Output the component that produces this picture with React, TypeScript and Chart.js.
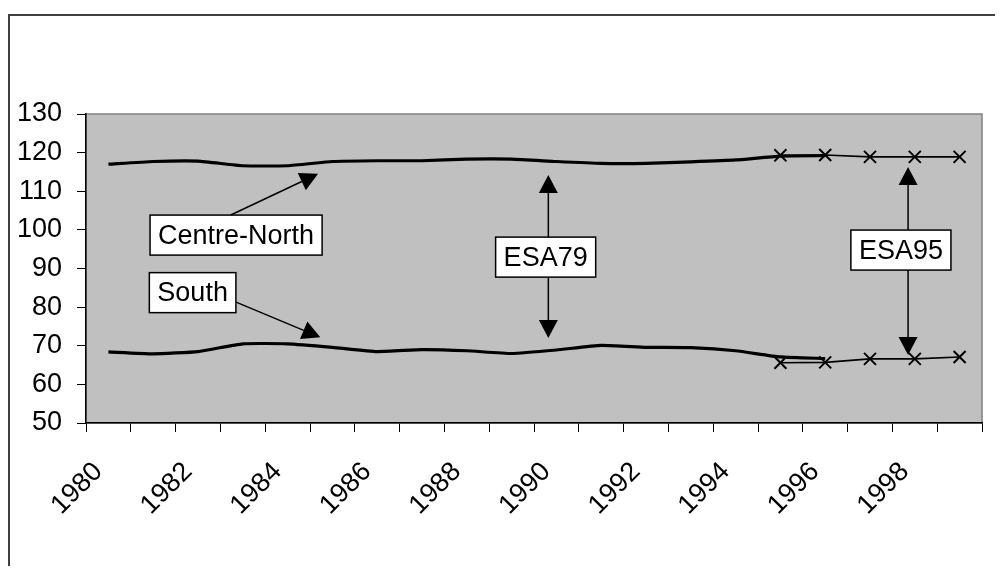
import React, { useEffect, useRef } from 'react';
import { Chart, registerables } from 'chart.js';

Chart.register(...registerables);

const years = ['1980', '1981', '1982', '1983', '1984', '1985', '1986', '1987', '1988', '1989', '1990', '1991', '1992', '1993', '1994', '1995', '1996', '1997', '1998', '1999'];

const centreNorthESA79 = [117.0, 117.7, 117.8, 116.6, 116.6, 117.7, 117.9, 117.9, 118.3, 118.3, 117.7, 117.2, 117.2, 117.6, 118.1, 119.1, 119.2, null, null, null];
const centreNorthESA95 = [null, null, null, null, null, null, null, null, null, null, null, null, null, null, null, 119.3, 119.4, 118.9, 118.9, 118.9];
const southESA79 = [68.4, 67.9, 68.5, 70.5, 70.5, 69.6, 68.5, 69.0, 68.7, 68.0, 68.9, 70.1, 69.6, 69.5, 68.7, 67.1, 66.7, null, null, null];
const southESA95 = [null, null, null, null, null, null, null, null, null, null, null, null, null, null, null, 65.6, 65.7, 66.6, 66.6, 67.1];

const yMin = 50;
const yMax = 130;
const yStep = 10;

// annotation boxes: x = category index, y = value (centre of the box)
const boxLabels = ['Centre-North', 'South', 'ESA79', 'ESA95'];
const boxX = [2.85, 1.88, 9.76, 17.69];
const boxY = [98.65, 83.75, 92.95, 94.77];

// arrows: from (x,y) to tip (x,y) in category index / value units
const arrowFromX = [2.72, 2.85, 9.82, 9.82, 17.85, 17.85];
const arrowFromY = [103.8, 81.3, 93, 93, 94.8, 94.8];
const arrowToX = [4.68, 4.73, 9.82, 9.82, 17.85, 17.85];
const arrowToY = [114.5, 72.2, 114.2, 72.0, 116.3, 67.6];

const FONT = "Arial, 'Liberation Sans', sans-serif";

const annotationPlugin = {
  id: 'annot',
  beforeDraw(chart: any) {
    const { ctx, chartArea: a } = chart;
    ctx.save();
    ctx.fillStyle = '#C0C0C0';
    ctx.fillRect(a.left, a.top, a.right - a.left, a.bottom - a.top);
    ctx.strokeStyle = '#808080';
    ctx.lineWidth = 1.5;
    ctx.strokeRect(a.left, a.top, a.right - a.left, a.bottom - a.top);
    ctx.restore();
  },
  afterDatasetsDraw(chart: any) {
    const { ctx } = chart;
    const xs = chart.scales.x;
    const ys = chart.scales.y;
    ctx.save();
    ctx.strokeStyle = '#000';
    ctx.fillStyle = '#000';
    ctx.lineWidth = 1.5;
    for (let i = 0; i < arrowFromX.length; i++) {
      const x1 = xs.getPixelForValue(arrowFromX[i]);
      const y1 = ys.getPixelForValue(arrowFromY[i]);
      const x2 = xs.getPixelForValue(arrowToX[i]);
      const y2 = ys.getPixelForValue(arrowToY[i]);
      const ang = Math.atan2(y2 - y1, x2 - x1);
      const headLen = 18;
      const headW = 9.5;
      const bx = x2 - headLen * Math.cos(ang);
      const by = y2 - headLen * Math.sin(ang);
      ctx.beginPath();
      ctx.moveTo(x1, y1);
      ctx.lineTo(bx, by);
      ctx.stroke();
      ctx.beginPath();
      ctx.moveTo(x2, y2);
      ctx.lineTo(bx + headW * Math.sin(ang), by - headW * Math.cos(ang));
      ctx.lineTo(bx - headW * Math.sin(ang), by + headW * Math.cos(ang));
      ctx.closePath();
      ctx.fill();
    }
    ctx.font = `27px ${FONT}`;
    ctx.textBaseline = 'middle';
    ctx.textAlign = 'center';
    for (let i = 0; i < boxLabels.length; i++) {
      const cx = xs.getPixelForValue(boxX[i]);
      const cy = ys.getPixelForValue(boxY[i]);
      const w = ctx.measureText(boxLabels[i]).width + 16;
      const h = 40;
      ctx.fillStyle = '#fff';
      ctx.fillRect(cx - w / 2, cy - h / 2, w, h);
      ctx.strokeStyle = '#000';
      ctx.lineWidth = 1.5;
      ctx.strokeRect(cx - w / 2, cy - h / 2, w, h);
      ctx.fillStyle = '#000';
      ctx.fillText(boxLabels[i], cx, cy + 1);
    }
    ctx.restore();
  },
};

export default function App() {
  const ref = useRef<HTMLCanvasElement>(null);
  useEffect(() => {
    if (!ref.current) return;
    Chart.defaults.font.family = FONT;
    Chart.defaults.font.size = 27;
    Chart.defaults.color = '#000';
    const thick = {
      borderColor: '#000',
      borderWidth: 3.2,
      pointRadius: 0,
      tension: 0.15,
      fill: false,
    };
    const thin = {
      borderColor: '#000',
      borderWidth: 1.6,
      pointStyle: 'crossRot',
      pointRadius: 8.5,
      pointBorderWidth: 2,
      pointBorderColor: '#000',
      tension: 0,
      fill: false,
    };
    const chart = new Chart(ref.current, {
      type: 'line',
      data: {
        labels: years,
        datasets: [
          { label: 'Centre-North ESA79', data: centreNorthESA79, ...thick },
          { label: 'South ESA79', data: southESA79, ...thick },
          { label: 'Centre-North ESA95', data: centreNorthESA95, ...thin },
          { label: 'South ESA95', data: southESA95, ...thin },
        ] as any,
      },
      options: {
        animation: false,
        responsive: true,
        maintainAspectRatio: false,
        layout: { padding: { left: 0, top: 98, right: 21, bottom: 0 } },
        plugins: { legend: { display: false }, tooltip: { enabled: false } },
        scales: {
          x: {
            type: 'category',
            offset: true,
            grid: { offset: true, drawOnChartArea: false, drawTicks: true, tickLength: 9, color: '#000', lineWidth: 1 },
            border: { display: true, color: '#000', width: 1.5 },
            ticks: {
              autoSkip: false,
              maxRotation: 45,
              minRotation: 45,
              padding: 24,
              labelOffset: -10,
              font: { size: 27, family: FONT },
              color: '#000',
              callback: (_v: any, i: number) => (i % 2 === 0 ? years[i] : ''),
            },
            afterFit: (s: any) => {
              s.height = 143;
              s.paddingRight = 0;
              s.paddingLeft = 0;
            },
          },
          y: {
            min: yMin,
            max: yMax,
            grid: { drawOnChartArea: false, drawTicks: true, tickLength: 9, color: '#000', lineWidth: 1 },
            border: { display: true, color: '#000', width: 1.5 },
            ticks: { stepSize: yStep, padding: 15, font: { size: 27, family: FONT }, color: '#000' },
            afterFit: (s: any) => { s.width = 76; },
          },
        },
      } as any,
      plugins: [annotationPlugin],
    });
    return () => chart.destroy();
  }, []);

  return (
    <div style={{ paddingTop: 6 }}>
      <div
        style={{
          borderTop: '2px solid #404040',
          borderLeft: '2px solid #404040',
          width: 993,
          height: 550,
          background: '#fff',
        }}
      >
        <div style={{ position: 'relative', width: 993, height: 550 }}>
          <canvas ref={ref} />
        </div>
      </div>
    </div>
  );
}
